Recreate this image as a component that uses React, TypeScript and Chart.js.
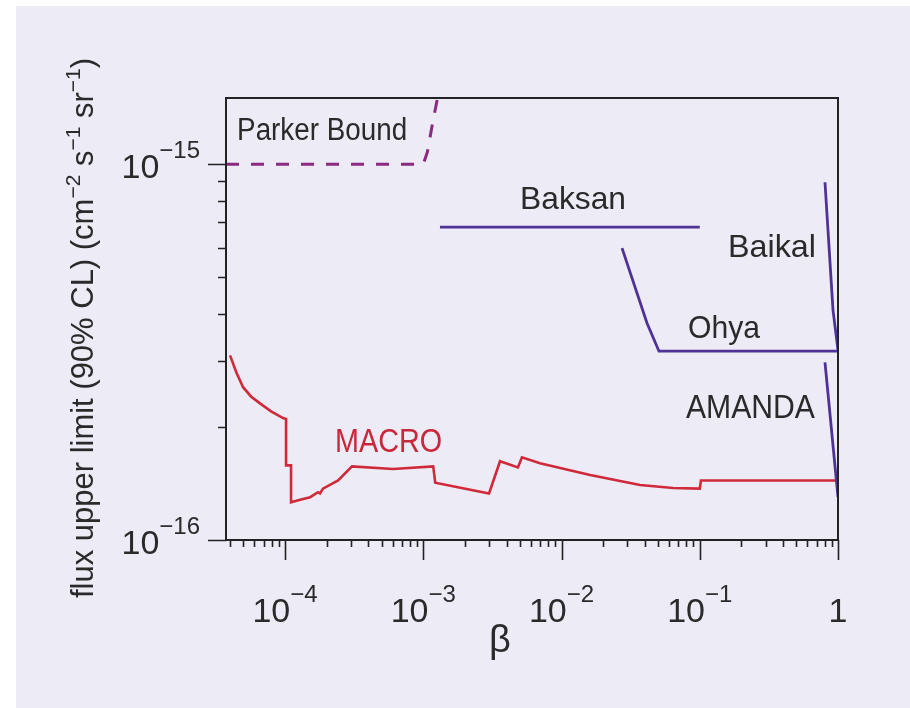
import React, { useEffect, useRef } from 'react';
import { Chart, registerables } from 'chart.js';

Chart.register(...registerables);

// ---------- data ----------
const macroBeta = [4.0e-5, 4.43e-5, 4.97e-5, 5.67e-5, 6.59e-5, 7.92e-5, 9.68e-5, 1.017e-4, 1.017e-4, 1.105e-4, 1.105e-4, 1.285e-4, 1.52e-4, 1.73e-4, 1.79e-4, 1.88e-4, 2.42e-4, 3.05e-4, 6.04e-4, 1.18e-3, 1.22e-3, 2.99e-3, 3.59e-3, 4.84e-3, 5.17e-3, 6.98e-3, 1.61e-2, 3.7e-2, 6.4e-2, 0.1, 0.102, 1];
const macroFlux = [3.1e-16, 2.8e-16, 2.55e-16, 2.41e-16, 2.31e-16, 2.2e-16, 2.11e-16, 2.1e-16, 1.58e-16, 1.58e-16, 1.26e-16, 1.28e-16, 1.3e-16, 1.34e-16, 1.33e-16, 1.37e-16, 1.44e-16, 1.57e-16, 1.545e-16, 1.57e-16, 1.42e-16, 1.33e-16, 1.62e-16, 1.56e-16, 1.66e-16, 1.6e-16, 1.49e-16, 1.4e-16, 1.375e-16, 1.37e-16, 1.44e-16, 1.44e-16];

const parkerBeta = [3.74e-5, 1.0e-3, 1.07e-3, 1.16e-3, 1.32e-3];
const parkerFlux = [1e-15, 1e-15, 1.076e-15, 1.27e-15, 1.62e-15];

const baksanBeta = [1.32e-3, 0.1];
const baksanFlux = [6.8e-16, 6.8e-16];

const ohyaBeta = [0.0274, 0.0415, 0.0507, 1];
const ohyaFlux = [5.98e-16, 3.78e-16, 3.18e-16, 3.18e-16];

const baikalBeta = [0.805, 0.92, 1];
const baikalFlux = [8.95e-16, 4.09e-16, 3.2e-16];

const amandaBeta = [0.805, 1];
const amandaFlux = [2.97e-16, 1.3e-16];

const labelText = ['Parker Bound', 'Baksan', 'Baikal', 'Ohya', 'AMANDA', 'MACRO'];
const labelBeta = [4.5e-5, 5.01e-3, 0.16, 0.0822, 0.0794, 2.3e-4];
const labelFlux = [1.159e-15, 7.59e-16, 5.66e-16, 3.44e-16, 2.11e-16, 1.715e-16];

const xTickValues = [1e-4, 1e-3, 1e-2, 1e-1, 1];
const xTickBase = ['10', '10', '10', '10', '1'];
const xTickSup = ['−4', '−3', '−2', '−1', ''];

const yTickValues = [1e-16, 1e-15];
const yTickBase = ['10', '10'];
const yTickSup = ['−16', '−15'];

const xTitle = 'β';
const yTitleParts = ['flux upper limit (90% CL) (cm', '−2', ' s', '−1', ' sr', '−1', ')'];

const X_MIN = 3.74e-5;
const X_MAX = 1;
const Y_MIN = 1e-16;
const Y_MAX = 1.5e-15;

// ---------- styles ----------
const FONT = "'Liberation Sans', Arial, sans-serif";
const TEXT = '#2a2a2a';
const AXIS = '#222222';
const RED = '#d02a3a';
const PURPLE = '#4f3296';
const PARKER = '#8a2a80';
const BG = '#ecebf6';

const labelColors = [TEXT, TEXT, TEXT, TEXT, TEXT, '#c8283a'];
const labelWidths = [170, 106, 88, 72, 129, 107];
const labelSizes = [31, 32, 32, 32, 34, 34];

type Seg = { t: string; sup?: boolean };

function drawRich(
  ctx: CanvasRenderingContext2D,
  segs: Seg[],
  x: number,
  y: number,
  size: number,
  supSize: number,
  supRise: number,
  align: 'left' | 'center' | 'right',
  targetWidth?: number
) {
  const widths = segs.map((s) => {
    ctx.font = `${s.sup ? supSize : size}px ${FONT}`;
    return ctx.measureText(s.t).width;
  });
  const total = widths.reduce((a, b) => a + b, 0);
  const sx = targetWidth ? targetWidth / total : 1;
  const w = total * sx;
  const start = align === 'left' ? x : align === 'center' ? x - w / 2 : x - w;
  ctx.save();
  ctx.translate(start, y);
  ctx.scale(sx, 1);
  ctx.textAlign = 'left';
  ctx.textBaseline = 'alphabetic';
  let cx = 0;
  segs.forEach((s, i) => {
    ctx.font = `${s.sup ? supSize : size}px ${FONT}`;
    ctx.fillText(s.t, cx, s.sup ? -supRise : 0);
    cx += widths[i];
  });
  ctx.restore();
}

const bgPlugin = {
  id: 'bgPlugin',
  beforeDraw(chart: any) {
    const ctx = chart.ctx as CanvasRenderingContext2D;
    ctx.save();
    ctx.fillStyle = '#ffffff';
    ctx.fillRect(0, 0, chart.width, chart.height);
    ctx.fillStyle = BG;
    ctx.fillRect(16, 6, chart.width - 16, chart.height - 6);
    ctx.restore();
  },
};

const overlayPlugin = {
  id: 'overlayPlugin',
  afterDraw(chart: any) {
    const ctx = chart.ctx as CanvasRenderingContext2D;
    const xs = chart.scales.x;
    const ys = chart.scales.y;
    const ca = chart.chartArea;
    ctx.save();
    // frame
    ctx.strokeStyle = AXIS;
    ctx.lineWidth = 2;
    ctx.strokeRect(ca.left, ca.top, ca.right - ca.left, ca.bottom - ca.top);

    // x ticks
    ctx.lineWidth = 1.6;
    ctx.beginPath();
    for (let e = -5; e <= 0; e++) {
      for (let m = 1; m <= 9; m++) {
        const v = m * Math.pow(10, e);
        if (v < X_MIN * 1.0001 || v > X_MAX * 1.0001) continue;
        const px = Math.round(xs.getPixelForValue(v)) + 0.5;
        const len = m === 1 ? 20 : 7;
        ctx.moveTo(px, ca.bottom);
        ctx.lineTo(px, ca.bottom + len);
      }
    }
    // y ticks
    for (let e = -16; e <= -15; e++) {
      for (let m = 1; m <= 9; m++) {
        const v = m * Math.pow(10, e);
        if (v < Y_MIN * 0.9999 || v > Y_MAX * 1.0001) continue;
        const py = Math.round(ys.getPixelForValue(v)) + 0.5;
        const len = m === 1 ? 18 : 8;
        ctx.moveTo(ca.left, py);
        ctx.lineTo(ca.left - len, py);
      }
    }
    ctx.stroke();

    ctx.fillStyle = TEXT;
    // x tick labels
    xTickValues.forEach((v, i) => {
      const px = xs.getPixelForValue(v);
      const segs: Seg[] = [{ t: xTickBase[i] }];
      if (xTickSup[i]) segs.push({ t: xTickSup[i], sup: true });
      drawRich(ctx, segs, px, ca.bottom + 82, 34, 24, 20, 'center');
    });
    // y tick labels
    yTickValues.forEach((v, i) => {
      const py = ys.getPixelForValue(v);
      drawRich(ctx, [{ t: yTickBase[i] }, { t: yTickSup[i], sup: true }], ca.left - 26, py + 14, 34, 24, 20, 'right');
    });

    // x title
    ctx.font = `38px ${FONT}`;
    ctx.textAlign = 'center';
    ctx.textBaseline = 'alphabetic';
    ctx.fillText(xTitle, 500, 652);

    // y title (rotated)
    ctx.save();
    ctx.translate(93, 328);
    ctx.rotate(-Math.PI / 2);
    const segs: Seg[] = yTitleParts.map((t, i) => ({ t, sup: i % 2 === 1 }));
    drawRich(ctx, segs, 0, 0, 31, 21, 13, 'center', 540);
    ctx.restore();

    // series labels
    labelText.forEach((t, i) => {
      const px = xs.getPixelForValue(labelBeta[i]);
      const py = ys.getPixelForValue(labelFlux[i]);
      ctx.fillStyle = labelColors[i];
      drawRich(ctx, [{ t }], px, py, labelSizes[i], 20, 0, 'left', labelWidths[i]);
    });
    ctx.restore();
  },
};

function pts(xs: number[], ys: number[]) {
  return xs.map((x, i) => ({ x, y: ys[i] }));
}

export default function App() {
  const ref = useRef<HTMLCanvasElement>(null);
  useEffect(() => {
    const canvas = ref.current!;
    const common = { showLine: true, pointRadius: 0, pointHoverRadius: 0, tension: 0, fill: false };
    const chart = new Chart(canvas, {
      type: 'scatter',
      data: {
        datasets: [
          { ...common, label: 'Parker Bound', data: pts(parkerBeta, parkerFlux), borderColor: PARKER, borderWidth: 3, borderDash: [13, 12] },
          { ...common, label: 'Baksan', data: pts(baksanBeta, baksanFlux), borderColor: PURPLE, borderWidth: 2.8 },
          { ...common, label: 'Ohya', data: pts(ohyaBeta, ohyaFlux), borderColor: PURPLE, borderWidth: 2.8 },
          { ...common, label: 'Baikal', data: pts(baikalBeta, baikalFlux), borderColor: PURPLE, borderWidth: 2.8 },
          { ...common, label: 'AMANDA', data: pts(amandaBeta, amandaFlux), borderColor: PURPLE, borderWidth: 2.8 },
          { ...common, label: 'MACRO', data: pts(macroBeta, macroFlux), borderColor: RED, borderWidth: 2.6 },
        ] as any,
      },
      options: {
        responsive: false,
        animation: false,
        devicePixelRatio: 1,
        events: [],
        layout: { padding: { left: 226, top: 98, right: 72, bottom: 168 } },
        plugins: { legend: { display: false }, tooltip: { enabled: false }, title: { display: false } },
        scales: {
          x: { type: 'logarithmic', min: X_MIN, max: X_MAX, display: false },
          y: { type: 'logarithmic', min: Y_MIN, max: Y_MAX, display: false },
        },
      } as any,
      plugins: [bgPlugin, overlayPlugin],
    });
    return () => chart.destroy();
  }, []);
  return (
    <div style={{ position: 'absolute', left: 0, top: 0, width: 910, height: 708 }}>
      <canvas ref={ref} width={910} height={708} style={{ display: 'block' }} />
    </div>
  );
}
